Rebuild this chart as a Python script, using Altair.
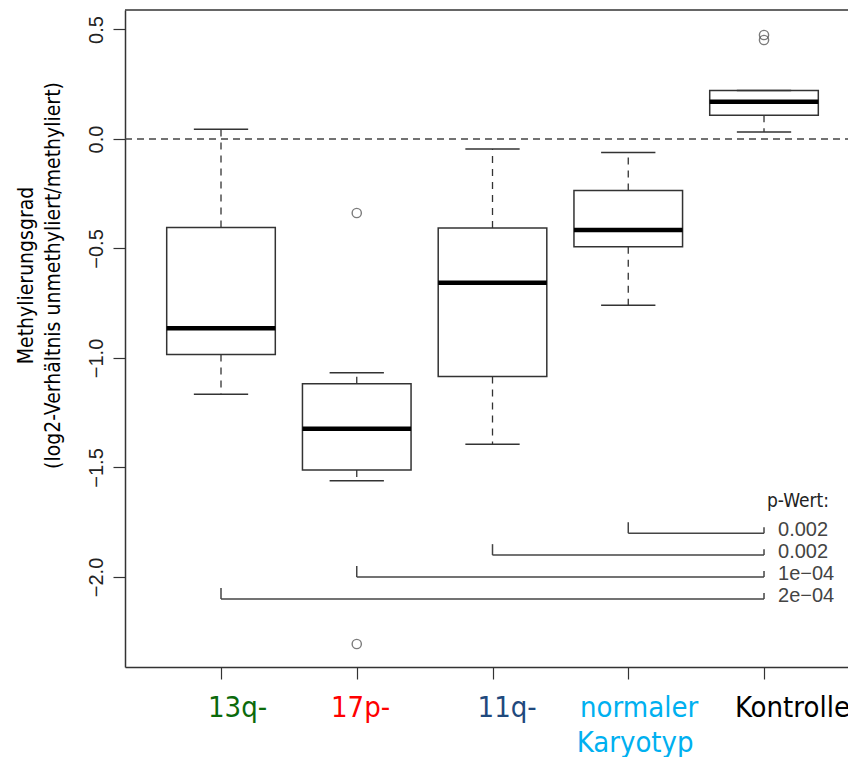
import altair as alt
import pandas as pd

# ---- data ----
groups = ["13q-", "17p-", "11q-", "normaler Karyotyp", "Kontrolle"]
positions = [1, 2, 3, 4, 5]
whisker_low = [-1.166, -1.561, -1.394, -0.759, 0.032]
q1 = [-0.984, -1.512, -1.084, -0.492, 0.108]
medians = [-0.864, -1.323, -0.657, -0.416, 0.170]
q3 = [-0.404, -1.118, -0.407, -0.235, 0.221]
whisker_high = [0.044, -1.067, -0.046, -0.062, 0.221]

outlier_pos = [2, 2, 5, 5]
outlier_val = [-0.338, -2.306, 0.475, 0.452]

cmp_from = [4, 3, 2, 1]
cmp_to = [5, 5, 5, 5]
cmp_level = [-1.8, -1.9, -2.0, -2.1]
p_values = ["0.002", "0.002", "1e\u221204", "2e\u221204"]
p_header = "p-Wert:"

label_lines = ["13q-", "17p-", "11q-", "normaler", "Karyotyp", "Kontrolle"]
label_group = [1, 2, 3, 4, 4, 5]
label_line_no = [0, 0, 0, 0, 1, 0]
label_colors = ["#0b6a0b", "#ff0000", "#1f497d", "#00b0f0", "#00b0f0", "#000000"]
label_shift = [-0.096, -0.19, -0.11, -0.355, -0.38, -0.214]

y_ticks = [-2.0, -1.5, -1.0, -0.5, 0.0, 0.5]
y_title = ["Methylierungsgrad", "(log2-Verh\u00e4ltnis unmethyliert/methyliert)"]

# ---- layout ----
W, H = 723, 657
LINE = "#333333"
TFONT = "DejaVu Sans Condensed, DejaVu Sans"
NFONT = "Liberation Sans Narrow, Liberation Sans"

xs = alt.Scale(domain=[0.2928, 5.6187], nice=False, zero=False)
ys = alt.Scale(domain=[-2.411, 0.589], nice=False, zero=False)

x_axis = alt.Axis(values=positions, labels=False, tickSize=12, tickColor=LINE,
                  tickWidth=1.2, domainColor=LINE, domainWidth=1.5, grid=False, title="")
y_axis = alt.Axis(values=y_ticks, format=".1f", labelAngle=270, labelAlign="center",
                  labelBaseline="alphabetic", labelPadding=11, tickSize=12,
                  tickColor=LINE, tickWidth=1.2, domainColor=LINE, domainWidth=1.5,
                  labelFont=NFONT, labelFontSize=20, labelColor="#222222", grid=False,
                  labelOverlap=False,
                  title=y_title, titleFont=TFONT, titleFontSize=21,
                  titleFontWeight="normal", titleColor="#000000", titleAngle=270,
                  titleAlign="center", titleBaseline="top", titleX=-110, titleY=265,
                  titleLineHeight=27)


def X(f):
    return alt.X(f, type="quantitative", scale=xs, axis=x_axis)


def Y(f):
    return alt.Y(f, type="quantitative", scale=ys, axis=y_axis)


box_df = pd.DataFrame({"group": groups, "pos": positions, "low": whisker_low, "q1": q1,
                       "med": medians, "q3": q3, "high": whisker_high})
out_df = pd.DataFrame({"pos": outlier_pos, "val": outlier_val})
cmp_df = pd.DataFrame({"a": cmp_from, "b": cmp_to, "lvl": cmp_level, "p": p_values})
head_df = pd.DataFrame({"b": [cmp_to[0]], "lvl": [cmp_level[0]], "t": [p_header]})
lab_df = pd.DataFrame({"t": label_lines, "g": label_group, "line": label_line_no,
                       "c": label_colors, "s": label_shift})
lab_df["xl"] = lab_df["g"] + lab_df["s"]
lab_df["ypx"] = H + 50 + 35 * lab_df["line"]

base = alt.Chart(box_df).transform_calculate(
    xl="datum.pos - 0.4", xr="datum.pos + 0.4",
    cl="datum.pos - 0.2", cr="datum.pos + 0.2")

zero_line = alt.Chart(pd.DataFrame({"y": [0.0]})).mark_rule(
    color="#444444", strokeDash=[7, 5], strokeWidth=1.3).encode(
    y=Y("y"), x=alt.value(0), x2=alt.value(W))

top_frame = alt.Chart(pd.DataFrame({"y": [0.0]})).mark_rule(
    color=LINE, strokeWidth=1.5).encode(
    y=alt.value(0), x=alt.value(0), x2=alt.value(W))

whisk_up = base.mark_rule(color=LINE, strokeDash=[7, 6], strokeWidth=1.3).encode(
    x=X("pos"), y=Y("q3"), y2="high")
whisk_dn = base.mark_rule(color=LINE, strokeDash=[7, 6], strokeWidth=1.3).encode(
    x=X("pos"), y=Y("q1"), y2="low")
cap_up = base.mark_rule(color=LINE, strokeWidth=1.5).encode(
    x=X("cl"), x2="cr", y=Y("high"))
cap_dn = base.mark_rule(color=LINE, strokeWidth=1.5).encode(
    x=X("cl"), x2="cr", y=Y("low"))
boxes = base.mark_rect(fill="white", stroke=LINE, strokeWidth=1.5).encode(
    x=X("xl"), x2="xr", y=Y("q1"), y2="q3")
med = base.mark_rule(color="#000000", strokeWidth=4.5).encode(
    x=X("xl"), x2="xr", y=Y("med"))

outs = alt.Chart(out_df).mark_point(shape="circle", filled=False, size=85,
                                     color="#444444", strokeWidth=1.4).encode(
    x=X("pos"), y=Y("val"))

cmp_base = alt.Chart(cmp_df).transform_calculate(
    tl="datum.lvl + 0.05", tr="datum.lvl + 0.027")
cmp_h = cmp_base.mark_rule(color="#444444", strokeWidth=1.5).encode(
    x=X("a"), x2="b", y=Y("lvl"))
cmp_l = cmp_base.mark_rule(color="#444444", strokeWidth=1.5).encode(
    x=X("a"), y=Y("lvl"), y2="tl")
cmp_r = cmp_base.mark_rule(color="#444444", strokeWidth=1.5).encode(
    x=X("b"), y=Y("lvl"), y2="tr")
cmp_t = cmp_base.mark_text(align="left", baseline="middle", dx=14, dy=-3,
                           font="Liberation Sans", fontSize=20, color="#444444").encode(
    x=X("b"), y=Y("lvl"), text="p:N")
head = alt.Chart(head_df).mark_text(align="left", baseline="alphabetic", dx=3, dy=-26,
                                    font=TFONT, fontSize=19, color="#222222").encode(
    x=X("b"), y=Y("lvl"), text="t:N")

xlabels = alt.Chart(lab_df).mark_text(align="left", baseline="alphabetic",
                                      font=TFONT, fontSize=29).encode(
    x=X("xl"), y=alt.Y("ypx:Q", scale=None), text="t:N",
    color=alt.Color("c:N", scale=None))

chart = alt.layer(
    zero_line, top_frame, cmp_h, cmp_l, cmp_r, whisk_up, whisk_dn, boxes,
    cap_up, cap_dn, med, outs, cmp_t, head, xlabels
).properties(
    width=W, height=H,
    autosize=alt.AutoSizeParams(type="none"),
    padding={"left": 125, "top": 10, "right": 0, "bottom": 90},
).configure_view(strokeWidth=0)

chart.save("out.html", embed_options={"renderer": "svg", "actions": False})
